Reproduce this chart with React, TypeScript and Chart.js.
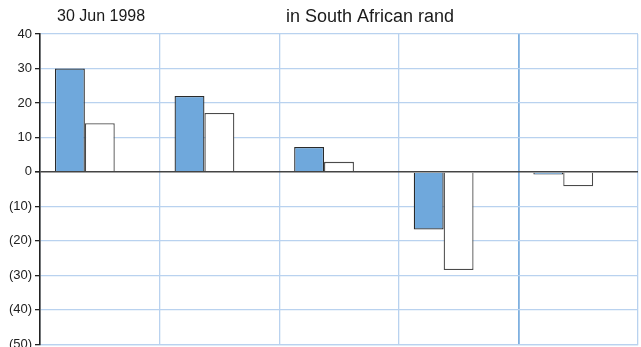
import React, { useEffect, useRef } from "react";
import { Chart, registerables } from "chart.js";

Chart.register(...registerables);

const categories = ["A", "B", "C", "D", "E"];
const seriesBlue = [30, 22, 7.2, -16.7, -0.8];
const seriesWhite = [14.1, 17.1, 2.9, -28.5, -4.2];
const seriesSpacer = [null, null, null, null, null];
const yTicks = [40, 30, 20, 10, 0, -10, -20, -30, -40, -50];
const dateLabel = "30 Jun 1998";
const unitLabel = "in South African rand";

const fmt = (v: number) => (v < 0 ? `(${Math.abs(v)})` : `${v}`);

const titlePlugin = {
  id: "titles",
  afterDraw(chart: any) {
    const ctx = chart.ctx;
    ctx.save();
    ctx.fillStyle = "#1a1a1a";
    ctx.textBaseline = "middle";
    ctx.textAlign = "left";
    ctx.font = "16px 'Liberation Sans', Arial, sans-serif";
    ctx.fillText(dateLabel, 57, 17);
    ctx.textAlign = "center";
    ctx.font = "18px 'Liberation Sans', Arial, sans-serif";
    ctx.fillText(unitLabel, 370, 17);
    ctx.restore();
  },
};

export default function App() {
  const ref = useRef<HTMLCanvasElement | null>(null);
  useEffect(() => {
    if (!ref.current) return;
    const chart = new Chart(ref.current, {
      type: "bar",
      data: {
        labels: categories,
        datasets: [
          {
            data: seriesBlue,
            backgroundColor: "#6fa8dc",
            borderColor: "#2a2a2a",
            borderWidth: 1.3,
          },
          {
            data: seriesWhite,
            backgroundColor: "#ffffff",
            borderColor: "#4a4a4a",
            borderWidth: 1.3,
          },
          {
            data: seriesSpacer as any,
            backgroundColor: "transparent",
            borderWidth: 0,
          },
        ],
      },
      options: {
        animation: false,
        responsive: true,
        maintainAspectRatio: false,
        layout: { padding: { top: 34, right: 3, left: 0, bottom: 0 } },
        plugins: { legend: { display: false }, tooltip: { enabled: false }, title: { display: false } },
        datasets: { bar: { categoryPercentage: 0.75, barPercentage: 1 } },
        scales: {
          x: {
            offset: true,
            ticks: { display: false },
            grid: {
              offset: true,
              drawTicks: false,
              color: (c: any) => (c.index === 4 ? "#7fb0e0" : "#b9d2ef"),
              lineWidth: (c: any) => (c.index === 4 ? 1.8 : 1.3),
            },
            border: { display: true, color: "#b9d2ef", width: 1.3 },
          },
          y: {
            min: -50,
            max: 40,
            afterFit: (s: any) => {
              s.width = 40;
            },
            afterBuildTicks: (s: any) => {
              s.ticks = yTicks.map((v) => ({ value: v }));
            },
            ticks: {
              callback: (v: any) => fmt(Number(v)),
              color: "#222222",
              font: { family: "'Liberation Sans', Arial, sans-serif", size: 13 },
              padding: 3,
            },
            grid: {
              color: (c: any) => (c.tick && c.tick.value === 0 ? "#444444" : "#b9d2ef"),
              lineWidth: (c: any) => (c.tick && c.tick.value === 0 ? 1.6 : 1.3),
              tickColor: "#222222",
              tickLength: 5,
              drawTicks: true,
            },
            border: { display: true, color: "#222222", width: 1.6 },
          },
        },
      },
      plugins: [titlePlugin],
    });
    return () => chart.destroy();
  }, []);
  return (
    <div style={{ position: "absolute", left: 0, top: 0, width: 641, height: 355 }}>
      <canvas ref={ref} />
    </div>
  );
}
